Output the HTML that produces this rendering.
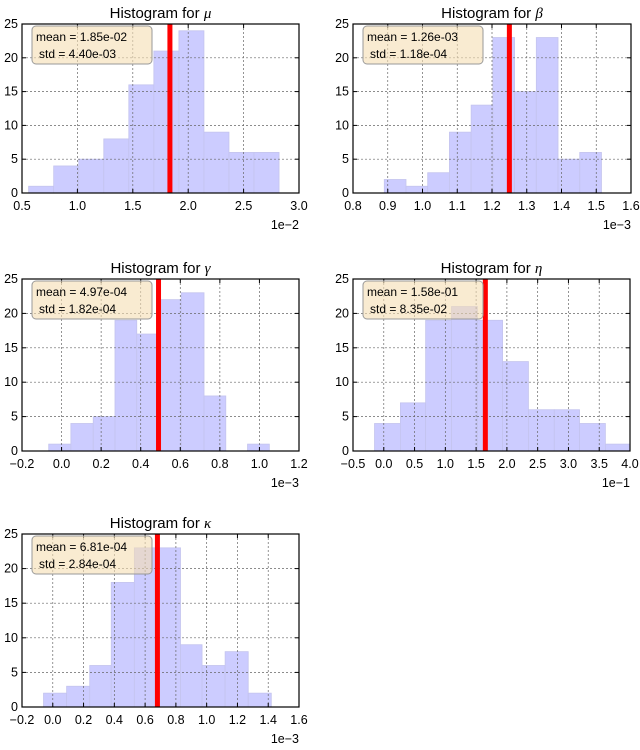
<!DOCTYPE html>
<html><head><meta charset="utf-8"><style>
body{margin:0;background:#fff;width:640px;height:745px;overflow:hidden}
svg text{font-family:"Liberation Sans","DejaVu Sans",sans-serif;fill:#000}
</style></head><body>
<svg id="fig" width="640" height="745" viewBox="0 0 640 745"></svg>
<script>
const muEdges=[0.56,0.786,1.012,1.238,1.464,1.69,1.916,2.142,2.368,2.594,2.82];
const muCounts=[1,4,5,8,16,21,24,9,6,6];
const betaEdges=[0.89,0.9525,1.015,1.0775,1.14,1.2025,1.265,1.3275,1.39,1.4525,1.515];
const betaCounts=[2,1,3,9,13,23,15,23,5,6];
const gammaEdges=[-0.065,0.047,0.16,0.27,0.38,0.495,0.605,0.72,0.83,0.94,1.05];
const gammaCounts=[1,4,5,19,17,22,23,8,0,1];
const etaEdges=[-0.15,0.27,0.68,1.1,1.52,1.93,2.35,2.77,3.18,3.6,4.0];
const etaCounts=[4,7,19,21,19,13,6,6,4,1];
const kappaEdges=[-0.06,0.09,0.24,0.38,0.53,0.68,0.83,0.97,1.12,1.27,1.42];
const kappaCounts=[2,3,6,18,23,23,9,6,8,2];
const means=[1.835,1.25,0.49,1.65,0.68];
const meanLabels=["mean = 1.85e-02","mean = 1.26e-03","mean = 4.97e-04","mean = 1.58e-01","mean = 6.81e-04"];
const stdLabels=["std = 4.40e-03","std = 1.18e-04","std = 1.82e-04","std = 8.35e-02","std = 2.84e-04"];
const xTicks=[[0.5,1.0,1.5,2.0,2.5,3.0],[0.8,0.9,1.0,1.1,1.2,1.3,1.4,1.5,1.6],[-0.2,0,0.2,0.4,0.6,0.8,1.0,1.2],[-0.5,0,0.5,1.0,1.5,2.0,2.5,3.0,3.5,4.0],[-0.2,0,0.2,0.4,0.6,0.8,1.0,1.2,1.4,1.6]];
const yTicks=[0,5,10,15,20,25];
const names=["μ","β","γ","η","κ"];
const offsets=["1e−2","1e−3","1e−3","1e−1","1e−3"];
const NS="http://www.w3.org/2000/svg";
const fig=document.getElementById('fig');
function mk(tag,attrs,parent){const e=document.createElementNS(NS,tag);for(const k in attrs)e.setAttribute(k,attrs[k]);(parent||fig).appendChild(e);return e;}
const panels=[
 {edges:muEdges,counts:muCounts,x0:22,x1:299,y0:24,y1:193},
 {edges:betaEdges,counts:betaCounts,x0:353,x1:631,y0:24,y1:193},
 {edges:gammaEdges,counts:gammaCounts,x0:22,x1:299,y0:279,y1:451},
 {edges:etaEdges,counts:etaCounts,x0:353,x1:630,y0:279,y1:451},
 {edges:kappaEdges,counts:kappaCounts,x0:22,x1:299,y0:534,y1:707}
];
panels.forEach((p,i)=>{
 const g=mk('g',{});
 
 
 const t=xTicks[i];const xmin=t[0],xmax=t[t.length-1];
 const sx=v=>p.x0+(v-xmin)/(xmax-xmin)*(p.x1-p.x0);
 const sy=v=>p.y1-v/25*(p.y1-p.y0);
 for(let k=0;k<p.counts.length;k++){
  const r=mk('rect',{x:sx(p.edges[k]),y:sy(p.counts[k]),width:sx(p.edges[k+1])-sx(p.edges[k]),height:p.y1-sy(p.counts[k]),fill:'#ccccff',stroke:'#c4c4ee','stroke-width':0.8},g);
  
  
 }
 t.forEach(v=>{const l=mk('line',{x1:sx(v),x2:sx(v),y1:p.y0,y2:p.y1,stroke:'#666','stroke-width':0.7,'stroke-dasharray':'2,2'},g);
  const tx=mk('text',{x:sx(v),y:p.y1+17,'font-size':12.5,'text-anchor':'middle'},g);tx.textContent=(v<0?'−':'')+Math.abs(v).toFixed(1);
  mk('line',{x1:sx(v),x2:sx(v),y1:p.y1,y2:p.y1-4,stroke:'#000'},g);mk('line',{x1:sx(v),x2:sx(v),y1:p.y0,y2:p.y0+4,stroke:'#000'},g);});
 yTicks.forEach(v=>{const l=mk('line',{x1:p.x0,x2:p.x1,y1:sy(v),y2:sy(v),stroke:'#666','stroke-width':0.7,'stroke-dasharray':'2,2'},g);
  const tx=mk('text',{x:p.x0-4,y:sy(v)+4,'font-size':12.5,'text-anchor':'end'},g);tx.textContent=v;
  mk('line',{x1:p.x0,x2:p.x0+4,y1:sy(v),y2:sy(v),stroke:'#000'},g);mk('line',{x1:p.x1,x2:p.x1-4,y1:sy(v),y2:sy(v),stroke:'#000'},g);});
 const ml=mk('line',{x1:sx(means[i]),x2:sx(means[i]),y1:p.y0,y2:p.y1,stroke:'#ff0000','stroke-width':5},g);
 
 const fr=mk('rect',{x:p.x0,y:p.y0,width:p.x1-p.x0,height:p.y1-p.y0,fill:'none',stroke:'#000','stroke-width':1.2},g);
 
 const bx=mk('rect',{x:p.x0+10,y:p.y0+2,width:120,height:38,rx:4,fill:'#f5deb3','fill-opacity':0.6,stroke:'#999','stroke-width':1},g);
 
 const t1=mk('text',{x:p.x0+14,y:p.y0+17,'font-size':12},g);t1.textContent=meanLabels[i];
 const t2=mk('text',{x:p.x0+17,y:p.y0+34,'font-size':12},g);t2.textContent=stdLabels[i];
 const ti=mk('text',{x:(p.x0+p.x1)/2,y:p.y0-6,'font-size':15,'text-anchor':'middle'},g);
 ti.innerHTML='Histogram for <tspan font-style="italic" font-family="Liberation Serif">'+names[i]+'</tspan>';
 
 const of=mk('text',{x:p.x1,y:p.y1+36,'font-size':12.5,'text-anchor':'end'},g);of.textContent=offsets[i];
 
});
</script>
</body></html>
